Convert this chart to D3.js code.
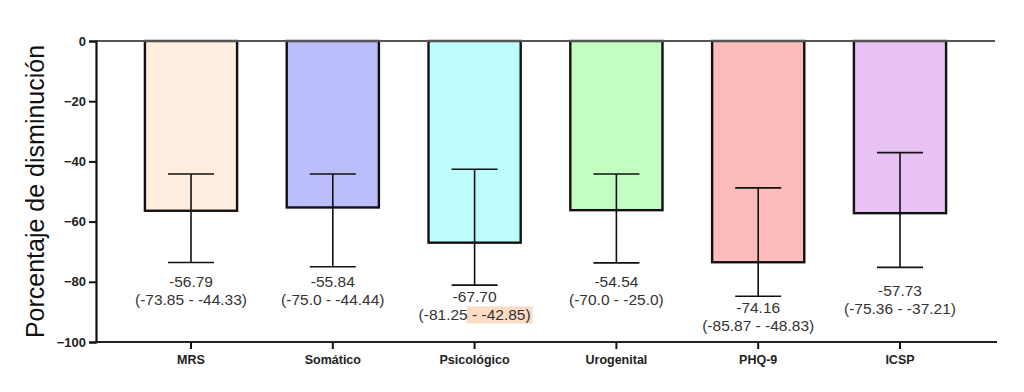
<!DOCTYPE html>
<html>
<head>
<meta charset="utf-8">
<script src="https://cdn.jsdelivr.net/npm/d3@7"></script>
<style>
  html, body { margin: 0; padding: 0; background: #fff; }
  svg { display: block; font-family: "Liberation Sans", Arial, sans-serif; }
</style>
</head>
<body>
<svg id="chart" width="1024" height="392"></svg>
<script>
// ---- data ----
const categories = ["MRS", "Somático", "Psicológico", "Urogenital", "PHQ-9", "ICSP"];
const barValues  = [-56.4, -55.3, -67.0, -56.2, -73.5, -57.2];
const errLow     = [-73.6, -75.0, -81.1, -73.7, -84.8, -75.2];
const errHigh    = [-44.2, -44.2, -42.6, -44.2, -48.8, -37.1];
const labelMain  = ["-56.79", "-55.84", "-67.70", "-54.54", "-74.16", "-57.73"];
const labelRange = ["(-73.85 - -44.33)", "(-75.0 - -44.44)", "(-81.25 - -42.85)", "(-70.0 - -25.0)", "(-85.87 - -48.83)", "(-75.36 - -37.21)"];
const labelAt    = [-80.0, -80.0, -85.2, -80.0, -88.8, -83.0];
const yTicks     = [0, -20, -40, -60, -80, -100];
const barColors  = ["#fdeee0", "#bcbdfb", "#bdfdfd", "#c4fdc0", "#fdbcbc", "#e8c2f5"];
const highlightIndex = 2;

(function () {
const data = categories.map((c, i) => ({
  cat: c, v: barValues[i], lo: errLow[i], hi: errHigh[i],
  main: labelMain[i], range: labelRange[i], at: labelAt[i], color: barColors[i]
}));

const svg = d3.select("#chart");
const mLeft = 96, mRight = 995, mTop = 41, mBottom = 342;

const x = d3.scaleBand().domain(categories).range([mLeft, mRight])
  .paddingInner(0.35).paddingOuter(0.345);
const y = d3.scaleLinear().domain([0, -100]).range([mTop, mBottom]);

const hlLayer = svg.append("g");

// bars
svg.append("g").selectAll("rect").data(data).join("rect")
  .attr("x", d => x(d.cat))
  .attr("y", y(0))
  .attr("width", x.bandwidth())
  .attr("height", d => y(d.v) - y(0))
  .attr("fill", d => d.color)
  .attr("stroke", "#111")
  .attr("stroke-width", 2.4);

// top baseline at zero
svg.append("line")
  .attr("x1", mLeft).attr("x2", mRight)
  .attr("y1", y(0)).attr("y2", y(0))
  .attr("stroke", "#555").attr("stroke-width", 2);

// error bars
const eb = svg.append("g").attr("stroke", "#111").attr("stroke-width", 1.6);
const capHalf = 23;
data.forEach(d => {
  const cx = x(d.cat) + x.bandwidth() / 2;
  eb.append("line").attr("x1", cx).attr("x2", cx).attr("y1", y(d.hi)).attr("y2", y(d.lo));
  eb.append("line").attr("x1", cx - capHalf).attr("x2", cx + capHalf).attr("y1", y(d.hi)).attr("y2", y(d.hi));
  eb.append("line").attr("x1", cx - capHalf).attr("x2", cx + capHalf).attr("y1", y(d.lo)).attr("y2", y(d.lo));
});

// annotations
const ann = svg.append("g").attr("fill", "#333").attr("font-size", 15.5).attr("text-anchor", "middle");
data.forEach((d, i) => {
  const cx = x(d.cat) + x.bandwidth() / 2;
  const yy = y(d.at);
  ann.append("text").attr("x", cx).attr("y", yy + 5).text(d.main);
  if (i === highlightIndex) {
    const parts = d.range.split(/(?= - -)/);
    const t = ann.append("text").attr("x", cx).attr("y", yy + 23);
    t.append("tspan").text(parts[0]);
    t.append("tspan").text(parts[1]);
    const node = t.node();
    const bb = node.getBBox();
    const startX = node.getStartPositionOfChar(parts[0].length).x;
    hlLayer.append("rect")
      .attr("x", startX - 1)
      .attr("y", bb.y)
      .attr("width", bb.x + bb.width - startX + 3)
      .attr("height", bb.height)
      .attr("fill", "#fcdcc4");
  } else {
    ann.append("text").attr("x", cx).attr("y", yy + 23).text(d.range);
  }
});

// y axis
const yAxis = svg.append("g").attr("transform", `translate(${mLeft},0)`)
  .call(d3.axisLeft(y).tickValues(yTicks).tickSize(7).tickPadding(3).tickFormat(d3.format("d")));
yAxis.select(".domain").attr("stroke", "#111").attr("stroke-width", 2.2);
yAxis.selectAll(".tick line").attr("stroke", "#111").attr("stroke-width", 2);
yAxis.selectAll(".tick text").attr("font-size", 13).attr("font-weight", "bold")
  .attr("fill", "#222").attr("font-family", "Liberation Sans, Arial, sans-serif");

// x axis
const xAxis = svg.append("g").attr("transform", `translate(0,${mBottom})`)
  .call(d3.axisBottom(x).tickSize(7).tickPadding(6).tickSizeOuter(0));
xAxis.select(".domain").attr("stroke", "#222").attr("stroke-width", 2.2)
  .attr("d", `M${mLeft},0H${mRight + 2}`);
xAxis.selectAll(".tick line").attr("stroke", "#111").attr("stroke-width", 2);
xAxis.selectAll(".tick text").attr("font-size", 12.5).attr("font-weight", "bold")
  .attr("fill", "#222").attr("font-family", "Liberation Sans, Arial, sans-serif");

// y title
svg.append("text")
  .attr("transform", `translate(44,${(mTop + mBottom) / 2}) rotate(-90)`)
  .attr("text-anchor", "middle")
  .attr("font-size", 25)
  .attr("fill", "#111")
  .text("Porcentaje de disminución");
})();
</script>
</body>
</html>
